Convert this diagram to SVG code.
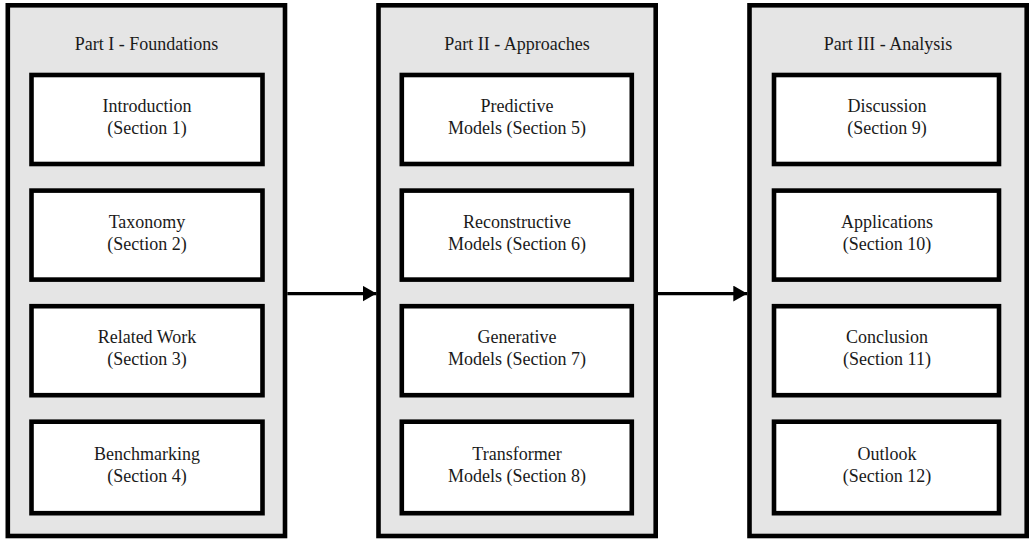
<svg xmlns="http://www.w3.org/2000/svg" width="1029" height="539" viewBox="0 0 1029 539">
<defs>
<style>
.panel{fill:#e5e5e5;stroke:#000;stroke-width:4.6}
.box{fill:#fff;stroke:#000;stroke-width:4.6}
text{font-family:"Liberation Serif","Times New Roman",serif;font-size:18px;fill:#1a1a1a;text-anchor:middle}
.conn{stroke:#000;stroke-width:3.4;fill:none}
</style>
<marker id="ah" markerWidth="14" markerHeight="16" refX="14" refY="8" orient="auto" markerUnits="userSpaceOnUse">
<path d="M0,0 L14,8 L0,16 Z" fill="#000"/>
</marker>
</defs>
<g id="part1">
<rect class="panel" x="7.8" y="5.3" width="277.2" height="530.7"/>
<text x="146.5" y="50">Part I - Foundations</text>
</g>
<g id="part2">
<rect class="panel" x="378.5" y="5.3" width="277.2" height="530.7"/>
<text x="517" y="50">Part II - Approaches</text>
</g>
<g id="part3">
<rect class="panel" x="749.5" y="5.3" width="277.2" height="530.7"/>
<text x="888" y="50">Part III - Analysis</text>
</g>
<g id="s1"><rect class="box" x="31.5" y="75" width="231" height="89"/><text x="147" y="112">Introduction</text><text x="147" y="134">(Section 1)</text></g>
<g id="s2"><rect class="box" x="31.5" y="190.6" width="231" height="89"/><text x="147" y="227.6">Taxonomy</text><text x="147" y="249.6">(Section 2)</text></g>
<g id="s3"><rect class="box" x="31.5" y="306.2" width="231" height="89"/><text x="147" y="343.2">Related Work</text><text x="147" y="365.2">(Section 3)</text></g>
<g id="s4"><rect class="box" x="31.5" y="421.7" width="231" height="91.5"/><text x="147" y="459.7">Benchmarking</text><text x="147" y="481.7">(Section 4)</text></g>
<g id="s5"><rect class="box" x="401.8" y="75" width="230" height="89"/><text x="517" y="112">Predictive</text><text x="517" y="134">Models (Section 5)</text></g>
<g id="s6"><rect class="box" x="401.8" y="190.6" width="230" height="89"/><text x="517" y="227.6">Reconstructive</text><text x="517" y="249.6">Models (Section 6)</text></g>
<g id="s7"><rect class="box" x="401.8" y="306.2" width="230" height="89"/><text x="517" y="343.2">Generative</text><text x="517" y="365.2">Models (Section 7)</text></g>
<g id="s8"><rect class="box" x="401.8" y="421.7" width="230" height="91.5"/><text x="517" y="459.7">Transformer</text><text x="517" y="481.7">Models (Section 8)</text></g>
<g id="s9"><rect class="box" x="774" y="75" width="225" height="89"/><text x="887" y="112">Discussion</text><text x="887" y="134">(Section 9)</text></g>
<g id="s10"><rect class="box" x="774" y="190.6" width="225" height="89"/><text x="887" y="227.6">Applications</text><text x="887" y="249.6">(Section 10)</text></g>
<g id="s11"><rect class="box" x="774" y="306.2" width="225" height="89"/><text x="887" y="343.2">Conclusion</text><text x="887" y="365.2">(Section 11)</text></g>
<g id="s12"><rect class="box" x="774" y="421.7" width="225" height="91.5"/><text x="887" y="459.7">Outlook</text><text x="887" y="481.7">(Section 12)</text></g>
<g id="connectors">
<line class="conn" x1="287.3" y1="293.6" x2="376.5" y2="293.6" marker-end="url(#ah)"/>
<line class="conn" x1="658" y1="293.6" x2="747.3" y2="293.6" marker-end="url(#ah)"/>
</g>
</svg>
